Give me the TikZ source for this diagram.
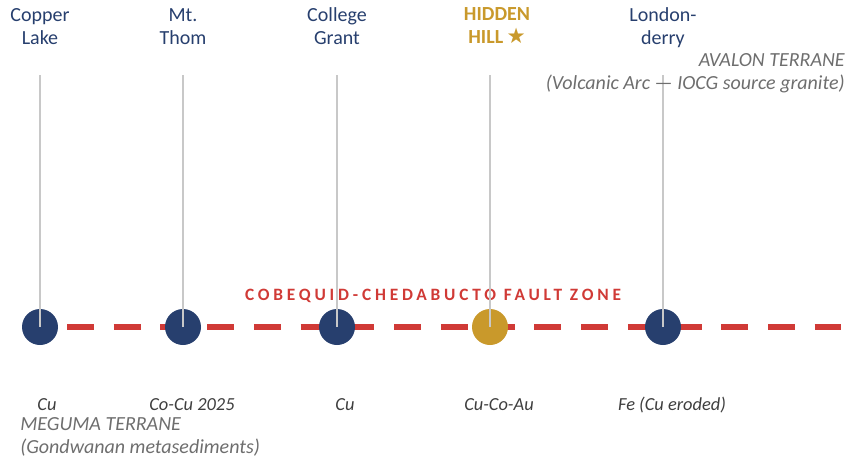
\documentclass[tikz,border=0pt]{standalone}
\usepackage{fontspec}
\setmainfont{Carlito}
\newfontfamily\starfont{DejaVu Sans}
\definecolor{navy}{HTML}{273F6E}
\definecolor{gold}{HTML}{C9992B}
\definecolor{faultred}{HTML}{D03A36}
\definecolor{stemgrey}{HTML}{C8C8C8}
\definecolor{terranegrey}{HTML}{6E6E6E}
\definecolor{oregrey}{HTML}{3F3F3F}
\begin{document}
\begin{tikzpicture}[
  x=0.75pt, y=-0.75pt,
  site/.style={align=center, anchor=base, text=navy, inner sep=0pt, font=\fontsize{15}{17.25}\selectfont},
  dot/.style={circle, fill=navy, minimum size=27pt, inner sep=0pt},
  stem/.style={draw=stemgrey, line width=1.5pt},
  fault/.style={draw=faultred, line width=4.5pt, dash pattern=on 20.25pt off 14.8pt},
  metal/.style={anchor=base, text=oregrey, inner sep=0pt, font=\fontsize{13.8}{16}\selectfont\itshape},
  terrane/.style={text=terranegrey, inner sep=0pt, font=\fontsize{15}{17.25}\selectfont\itshape}
]
\useasboundingbox (0,0) rectangle (864,458);

% fault line
\coordinate (fault-w) at (67,327);
\coordinate (fault-e) at (841,327);
\draw[fault] (fault-w) -- (fault-e);
\node[anchor=base, text=faultred, inner sep=0pt,
  font=\fontsize{13}{15}\selectfont\bfseries\addfontfeature{LetterSpace=22}]
  (faultlabel) at (433,300) {COBEQUID-CHEDABUCTO FAULT ZONE};

% deposits
\node[dot] (copper) at (40,327) {};
\node[dot] (thom) at (183,327) {};
\node[dot] (college) at (337,327) {};
\node[dot, fill=gold] (hidden) at (490,327) {};
\node[dot] (london) at (663,327) {};

\coordinate (copper-top) at (40,75);
\coordinate (thom-top) at (183,75);
\coordinate (college-top) at (337,75);
\coordinate (hidden-top) at (490,75);
\coordinate (london-top) at (663,75);
\draw[stem] (copper-top) -- (copper.center);
\draw[stem] (thom-top) -- (thom.center);
\draw[stem] (college-top) -- (college.center);
\draw[stem] (hidden-top) -- (hidden.center);
\draw[stem] (london-top) -- (london.center);

% names (anchored on the baseline of the second line)
\node[site] (copper-name) at (40,44) {Copper\\Lake};
\node[site] (thom-name) at (183,44) {Mt.\\Thom};
\node[site] (college-name) at (337,44) {College\\Grant};
\node[site, text=gold, font=\fontsize{15}{17.25}\selectfont\bfseries] (hidden-name) at (497,43)
  {HIDDEN\\HILL\,{\starfont\fontsize{16}{17}\selectfont ★}};
\node[site] (london-name) at (663,44) {London-\\derry};

% metals
\node[metal] (copper-ore) at (47,410) {Cu};
\node[metal] (thom-ore) at (192,410) {Co-Cu 2025};
\node[metal] (college-ore) at (345,410) {Cu};
\node[metal] (hidden-ore) at (499,410) {Cu-Co-Au};
\node[metal] (london-ore) at (672,410) {Fe (Cu eroded)};

% terranes
\node[terrane, anchor=base east, align=right] (avalon) at (845,89)
  {AVALON TERRANE\\(Volcanic Arc — IOCG source granite)};
\node[terrane, anchor=base west, align=left] (meguma) at (20,453)
  {MEGUMA TERRANE\\(Gondwanan metasediments)};
\end{tikzpicture}
\end{document}
